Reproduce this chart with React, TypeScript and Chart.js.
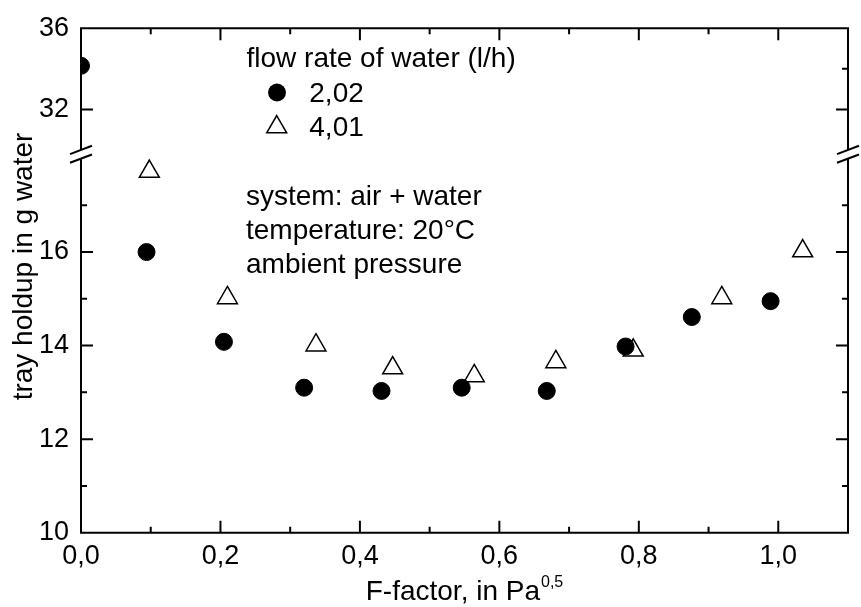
import React, { useEffect, useRef } from 'react';
import { Chart, registerables } from 'chart.js';
Chart.register(...registerables);

// ---- data ----
const fFactor202 = [0.0, 0.094, 0.205, 0.32, 0.431, 0.546, 0.668, 0.781, 0.876, 0.989];
const holdup202 = [34.15, 16.0, 14.08, 13.1, 13.03, 13.1, 13.03, 13.98, 14.61, 14.95];
const fFactor401 = [0.098, 0.21, 0.337, 0.447, 0.564, 0.681, 0.792, 0.919, 1.035];
const holdup401 = [17.72, 15.02, 14.01, 13.52, 13.35, 13.65, 13.9, 15.02, 16.02];

const xMajorTicks = [0, 0.2, 0.4, 0.6, 0.8, 1.0];
const xMinorTicks = [0.1, 0.3, 0.5, 0.7, 0.9];
const yLowerTicks = [10, 12, 14, 16];
const yLowerMinor = [11, 13, 15, 17];
const yUpperTicks = [32, 36];
const yUpperMinor = [34];

const X_MIN = 0, X_MAX = 1.1;
const Y_LOW_MIN = 10, Y_LOW_MAX = 18.09;
const Y_UP_MIN = 29.8, Y_UP_MAX = 36;
const BREAK_VALUE = 25;

const legendTitle = 'flow rate of water (l/h)';
const seriesNames = ['2,02', '4,01'];
const noteLines = ['system: air + water', 'temperature: 20°C', 'ambient pressure'];
const xTitle = 'F-factor, in Pa';
const xTitleSup = '0,5';
const yTitle = 'tray holdup in g water';

const FONT = '"Liberation Sans", Arial, sans-serif';

function split(xs: number[], ys: number[], upper: boolean) {
  const out: { x: number; y: number }[] = [];
  xs.forEach((x, i) => {
    if ((ys[i] > BREAK_VALUE) === upper) out.push({ x, y: ys[i] });
  });
  return out;
}

const circleStyle = {
  pointStyle: 'circle',
  pointRadius: 8.5,
  pointBackgroundColor: '#000',
  pointBorderColor: '#000',
  pointBorderWidth: 1,
  showLine: false,
  clip: 0,
};
const triStyle = {
  pointStyle: 'triangle',
  pointRadius: 11.5,
  pointBackgroundColor: 'rgba(255,255,255,0)',
  pointBorderColor: '#000',
  pointBorderWidth: 1.5,
  showLine: false,
  clip: 0,
};

const decorPlugin = {
  id: 'decor',
  afterDraw(chart: any) {
    const ctx: CanvasRenderingContext2D = chart.ctx;
    const { left, right, top, bottom } = chart.chartArea;
    const xs = chart.scales.x;
    const yl = chart.scales.y;
    const yu = chart.scales.y2;
    ctx.save();
    ctx.strokeStyle = '#000';
    ctx.lineWidth = 2;
    ctx.beginPath();
    ctx.moveTo(left - 1, top);
    ctx.lineTo(right + 1, top);
    ctx.moveTo(left - 1, bottom);
    ctx.lineTo(right + 1, bottom);
    ctx.moveTo(left, top);
    ctx.lineTo(left, bottom);
    ctx.moveTo(right, top);
    ctx.lineTo(right, bottom);
    const xt = (vals: number[], len: number) =>
      vals.forEach((v) => {
        const p = xs.getPixelForValue(v);
        ctx.moveTo(p, bottom);
        ctx.lineTo(p, bottom - len);
        ctx.moveTo(p, top);
        ctx.lineTo(p, top + len);
      });
    const yt = (sc: any, vals: number[], len: number) =>
      vals.forEach((v) => {
        const p = sc.getPixelForValue(v);
        ctx.moveTo(left, p);
        ctx.lineTo(left + len, p);
        ctx.moveTo(right, p);
        ctx.lineTo(right - len, p);
      });
    xt(xMajorTicks, 12);
    xt(xMinorTicks, 6);
    yt(yl, yLowerTicks, 12);
    yt(yl, yLowerMinor, 6);
    yt(yu, yUpperTicks, 12);
    yt(yu, yUpperMinor, 6);
    ctx.stroke();

    // axis breaks
    const yb = yl.top;
    const w = 11, s = 4.15, g = 4.35;
    [left, right].forEach((ax) => {
      ctx.fillStyle = '#fff';
      ctx.beginPath();
      ctx.moveTo(ax - w, yb - g + s);
      ctx.lineTo(ax + w, yb - g - s);
      ctx.lineTo(ax + w, yb + g - s);
      ctx.lineTo(ax - w, yb + g + s);
      ctx.closePath();
      ctx.fill();
      ctx.beginPath();
      ctx.moveTo(ax - w, yb - g + s);
      ctx.lineTo(ax + w, yb - g - s);
      ctx.moveTo(ax - w, yb + g + s);
      ctx.lineTo(ax + w, yb + g - s);
      ctx.stroke();
    });

    // legend + notes
    ctx.fillStyle = '#000';
    ctx.textAlign = 'left';
    ctx.textBaseline = 'alphabetic';
    ctx.font = `28px ${FONT}`;
    ctx.fillText(legendTitle, 246.5, 66.5);
    ctx.beginPath();
    ctx.arc(277, 92.5, 9, 0, Math.PI * 2);
    ctx.fill();
    ctx.fillText(seriesNames[0], 309.3, 101.7);
    const tr = 11.5, tx = 276.7, ty = 127;
    ctx.lineWidth = 1.5;
    ctx.beginPath();
    for (let k = 0; k < 3; k++) {
      const a = (k * 2 * Math.PI) / 3;
      const px = tx + Math.sin(a) * tr, py = ty - Math.cos(a) * tr;
      if (k === 0) ctx.moveTo(px, py); else ctx.lineTo(px, py);
    }
    ctx.closePath();
    ctx.stroke();
    ctx.fillText(seriesNames[1], 309.3, 135.7);
    const noteY = [205, 239, 272.5];
    noteLines.forEach((t, i) => ctx.fillText(t, 246, noteY[i]));

    // x title with superscript
    ctx.font = `28px ${FONT}`;
    const mainW = ctx.measureText(xTitle).width;
    ctx.font = `16px ${FONT}`;
    const supW = ctx.measureText(xTitleSup).width;
    const cx = (left + right) / 2;
    const x0 = cx - (mainW + supW + 1) / 2;
    ctx.font = `28px ${FONT}`;
    ctx.fillText(xTitle, x0, 600);
    ctx.font = `16px ${FONT}`;
    ctx.fillText(xTitleSup, x0 + mainW + 1, 587);

    // y title
    ctx.font = `28px ${FONT}`;
    ctx.translate(31.5, 266.5);
    ctx.rotate(-Math.PI / 2);
    ctx.textAlign = 'center';
    ctx.fillText(yTitle, 0, 0);
    ctx.restore();
  },
};

export default function App() {
  const ref = useRef<HTMLCanvasElement>(null);
  useEffect(() => {
    const tickFont = { family: FONT, size: 27 };
    const chart = new Chart(ref.current as HTMLCanvasElement, {
      type: 'scatter',
      data: {
        datasets: [
          { ...circleStyle, label: seriesNames[0], data: split(fFactor202, holdup202, false), yAxisID: 'y' },
          { ...circleStyle, label: seriesNames[0], data: split(fFactor202, holdup202, true), yAxisID: 'y2' },
          { ...triStyle, label: seriesNames[1], data: split(fFactor401, holdup401, false), yAxisID: 'y' },
          { ...triStyle, label: seriesNames[1], data: split(fFactor401, holdup401, true), yAxisID: 'y2' },
        ] as any,
      },
      options: {
        responsive: false,
        animation: false,
        devicePixelRatio: 1,
        layout: { padding: { top: 21.7, right: 2, left: 0, bottom: 0 } },
        plugins: { legend: { display: false }, tooltip: { enabled: false } },
        scales: {
          x: {
            type: 'linear',
            position: 'bottom',
            min: X_MIN,
            max: X_MAX,
            grid: { display: false, drawTicks: false },
            border: { display: false },
            afterBuildTicks: (s: any) => { s.ticks = xMajorTicks.map((v) => ({ value: v })); },
            afterFit: (s: any) => { s.height = 74.3; },
            ticks: {
              font: tickFont,
              color: '#000',
              padding: 8,
              maxRotation: 0,
              autoSkip: false,
              callback: (v: any) => Number(v).toFixed(1).replace('.', ','),
            },
          },
          y: {
            type: 'linear',
            position: 'left',
            stack: 'ys',
            stackWeight: 383.3,
            min: Y_LOW_MIN,
            max: Y_LOW_MAX,
            grid: { display: false, drawTicks: false },
            border: { display: false },
            afterBuildTicks: (s: any) => { s.ticks = yLowerTicks.map((v) => ({ value: v })); },
            afterFit: (s: any) => { s.width = 81; },
            ticks: { font: tickFont, color: '#000', padding: 12, autoSkip: false, callback: (v: any) => String(v) },
          },
          y2: {
            type: 'linear',
            position: 'left',
            stack: 'ys',
            stackWeight: 127.7,
            min: Y_UP_MIN,
            max: Y_UP_MAX,
            grid: { display: false, drawTicks: false },
            border: { display: false },
            afterBuildTicks: (s: any) => { s.ticks = yUpperTicks.map((v) => ({ value: v })); },
            afterFit: (s: any) => { s.width = 81; },
            ticks: { font: tickFont, color: '#000', padding: 12, autoSkip: false, callback: (v: any) => String(v) },
          },
        },
      } as any,
      plugins: [decorPlugin],
    });
    return () => chart.destroy();
  }, []);
  return (
    <div style={{ position: 'absolute', left: 0, top: 0, width: 861, height: 607, background: '#fff' }}>
      <canvas ref={ref} width={861} height={607} style={{ display: 'block' }} />
    </div>
  );
}
